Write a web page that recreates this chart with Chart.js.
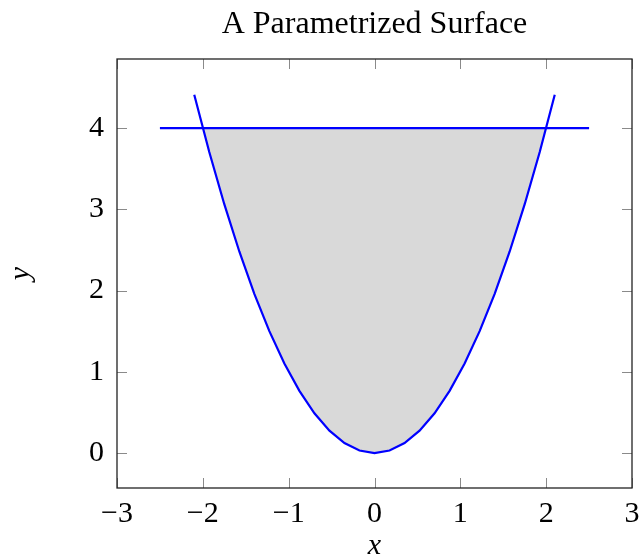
<!DOCTYPE html>
<html>
<head>
<meta charset="utf-8">
<script src="https://cdn.jsdelivr.net/npm/chart.js@4.4.0/dist/chart.umd.min.js"></script>
<style>
  html, body { margin: 0; padding: 0; background: #fff; }
  #wrap { width: 644px; height: 558px; }
</style>
</head>
<body>
<div id="wrap"><canvas id="surfaceChart" width="644" height="558"></canvas></div>
<script>
// --- dane ---
const curveX = [-2.1, -1.925, -1.75, -1.575, -1.4, -1.225, -1.05, -0.875, -0.7, -0.525, -0.35, -0.175, 0,
                0.175, 0.35, 0.525, 0.7, 0.875, 1.05, 1.225, 1.4, 1.575, 1.75, 1.925, 2.1];
const curveY = [4.41, 3.706, 3.063, 2.481, 1.96, 1.501, 1.103, 0.766, 0.49, 0.276, 0.123, 0.031, 0,
                0.031, 0.123, 0.276, 0.49, 0.766, 1.103, 1.501, 1.96, 2.481, 3.063, 3.706, 4.41];
const levelX = [-2.5, 2.5];
const levelY = [4, 4];
const regionX = [-2, -1.925, -1.75, -1.575, -1.4, -1.225, -1.05, -0.875, -0.7, -0.525, -0.35, -0.175, 0,
                 0.175, 0.35, 0.525, 0.7, 0.875, 1.05, 1.225, 1.4, 1.575, 1.75, 1.925, 2];
const regionY = [4, 3.706, 3.063, 2.481, 1.96, 1.501, 1.103, 0.766, 0.49, 0.276, 0.123, 0.031, 0,
                 0.031, 0.123, 0.276, 0.49, 0.766, 1.103, 1.501, 1.96, 2.481, 3.063, 3.706, 4];
const xTicks = [-3, -2, -1, 0, 1, 2, 3];
const yTicks = [0, 1, 2, 3, 4];

const titleText = 'A Parametrized Surface';
const serif = "'Liberation Serif', 'DejaVu Serif', serif";

const toPoints = (xs, ys) => xs.map((x, i) => ({ x: x, y: ys[i] }));
const fmt = v => (v < 0 ? '\u2212' + Math.abs(v) : String(v));

// ramka, wewnętrzne kreski podziałki i tytuł
const framePlugin = {
    id: 'frame',
    afterDraw(chart) {
        const { ctx, chartArea: a, scales } = chart;
        const len = 10;
        ctx.save();
        ctx.strokeStyle = '#8a8a8a';
        ctx.lineWidth = 1;
        ctx.beginPath();
        xTicks.forEach(v => {
            const px = Math.round(scales.x.getPixelForValue(v)) + 0.5;
            ctx.moveTo(px, a.bottom); ctx.lineTo(px, a.bottom - len);
            ctx.moveTo(px, a.top); ctx.lineTo(px, a.top + len);
        });
        yTicks.forEach(v => {
            const py = Math.round(scales.y.getPixelForValue(v)) + 0.5;
            ctx.moveTo(a.left, py); ctx.lineTo(a.left + len, py);
            ctx.moveTo(a.right, py); ctx.lineTo(a.right - len, py);
        });
        ctx.stroke();

        ctx.strokeStyle = '#222';
        ctx.lineWidth = 1.3;
        ctx.strokeRect(a.left, a.top, a.right - a.left, a.bottom - a.top);

        ctx.fillStyle = '#000';
        ctx.font = '32px ' + serif;
        ctx.textAlign = 'center';
        ctx.textBaseline = 'alphabetic';
        ctx.fillText(titleText, (a.left + a.right) / 2, 33);
        ctx.restore();
    }
};

const ctx = document.getElementById('surfaceChart').getContext('2d');

new Chart(ctx, {
    type: 'line',
    data: {
        datasets: [
            {
                label: 'y = x^2',
                data: toPoints(curveX, curveY),
                borderColor: '#0000ff',
                borderWidth: 2.2,
                pointRadius: 0,
                fill: false,
                tension: 0,
                order: 1
            },
            {
                label: 'y = 4',
                data: toPoints(levelX, levelY),
                borderColor: '#0000ff',
                borderWidth: 2.2,
                pointRadius: 0,
                fill: false,
                order: 2
            },
            {
                label: 'region',
                data: toPoints(regionX, regionY),
                borderWidth: 0,
                borderColor: 'rgba(0,0,0,0)',
                backgroundColor: '#d9d9d9',
                pointRadius: 0,
                fill: { value: 4 },
                order: 3
            }
        ]
    },
    options: {
        responsive: false,
        animation: false,
        layout: { padding: { top: 59, right: 12, left: 0, bottom: -6 } },
        plugins: {
            legend: { display: false },
            tooltip: { enabled: false },
            title: { display: false }
        },
        scales: {
            x: {
                type: 'linear',
                min: -3,
                max: 3,
                afterFit: s => { s.height = 76; s.paddingLeft = 0; s.paddingRight = 0; },
                afterBuildTicks: s => { s.ticks = xTicks.map(v => ({ value: v })); },
                grid: { display: false, drawTicks: false },
                border: { display: false },
                ticks: {
                    padding: 8,
                    color: '#000',
                    font: { family: serif, size: 30 },
                    callback: fmt
                },
                title: {
                    display: true,
                    text: 'x',
                    color: '#000',
                    font: { family: serif, size: 30, style: 'italic' },
                    padding: { top: 5, bottom: 0 }
                }
            },
            y: {
                type: 'linear',
                min: -0.43,
                max: 4.85,
                afterFit: s => { s.width = 117; s.paddingTop = 0; s.paddingBottom = 0; },
                afterBuildTicks: s => { s.ticks = yTicks.map(v => ({ value: v })); },
                grid: { display: false, drawTicks: false },
                border: { display: false },
                ticks: {
                    padding: 13,
                    color: '#000',
                    font: { family: serif, size: 30 },
                    callback: fmt
                },
                title: {
                    display: true,
                    text: 'y',
                    color: '#000',
                    font: { family: serif, size: 30, style: 'italic' },
                    padding: { top: 3, bottom: 0 }
                }
            }
        }
    },
    plugins: [framePlugin]
});
</script>
</body>
</html>
